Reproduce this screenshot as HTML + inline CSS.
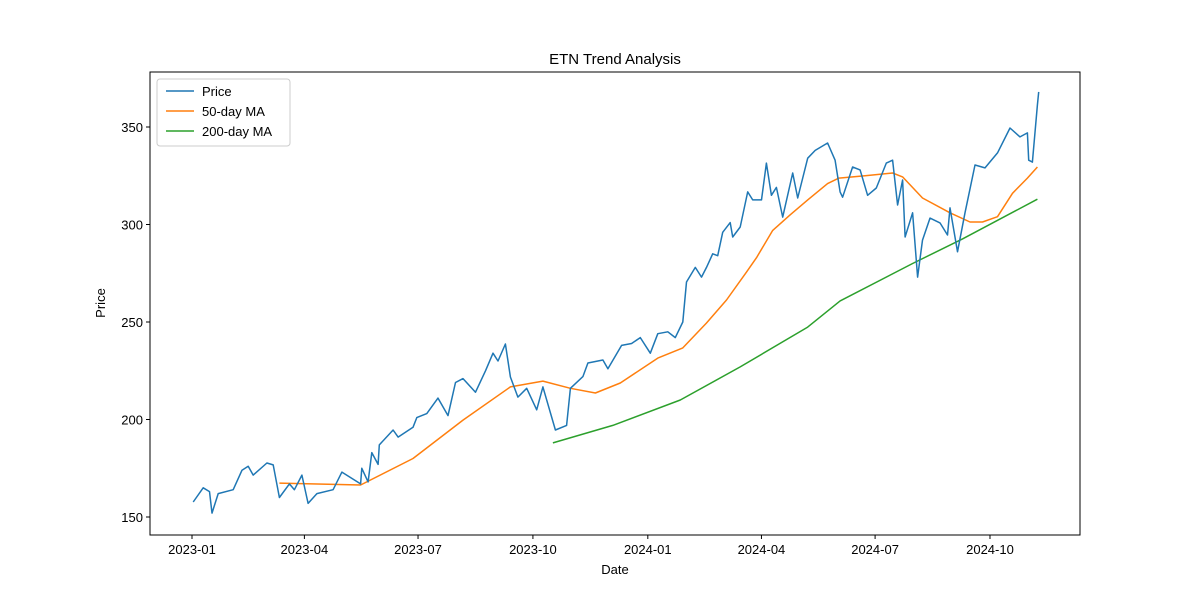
<!DOCTYPE html>
<html><head><meta charset="utf-8"><style>
body{margin:0;background:#fff;}
svg{display:block;font-family:"Liberation Sans","DejaVu Sans",sans-serif;}
</style></head><body>
<svg id="chart" width="1200" height="600" xmlns="http://www.w3.org/2000/svg">
<rect width="1200" height="600" fill="#fff"/>
<text x="615" y="64" font-size="15" text-anchor="middle">ETN Trend Analysis</text>
<g id="axes"></g>
<g id="series"></g>
<rect x="150" y="72" width="930" height="463" fill="none" stroke="#000" stroke-width="1"/>
<text x="615" y="574" font-size="13" text-anchor="middle">Date</text>
<text x="105" y="303" font-size="13" text-anchor="middle" transform="rotate(-90 105 303)">Price</text>
<g>
<rect x="157" y="79" width="133" height="67" rx="3" fill="#fff" stroke="#ccc"/>
<line x1="166" y1="91" x2="194" y2="91" stroke="#1f77b4" stroke-width="1.5"/>
<text x="202" y="96" font-size="13">Price</text>
<line x1="166" y1="111" x2="194" y2="111" stroke="#ff7f0e" stroke-width="1.5"/>
<text x="202" y="116" font-size="13">50-day MA</text>
<line x1="166" y1="131" x2="194" y2="131" stroke="#2ca02c" stroke-width="1.5"/>
<text x="202" y="136" font-size="13">200-day MA</text>
</g>
</svg>
<script>
// days since 2023-01-01
const priceDays=[1,9,14,16,21,33,40,45,49,60,65,70,78,82,88,93,100,113,120,135,136,141,144,149,150,161,165,177,180,188,197,205,211,217,227,235,241,245,251,255,261,268,276,281,291,300,303,313,317,329,333,344,352,359,367,373,381,387,393,396,403,408,412,417,421,425,431,433,439,445,449,456,460,464,468,473,481,485,493,499,509,515,519,521,529,535,541,548,556,561,565,569,571,577,581,585,591,599,605,607,613,619,627,635,645,655,663,669,670,673,677,678];
const priceVals=[157.7,165,163,152,162,164,174,176,171.5,177.7,176.7,160,167,164,171.5,157,162,164,173,167,175,168,183,177,187,194.6,191,196,201,203,211,202,219,221,214,225,234,230,238.7,221.8,211.5,216,205,216.7,194.6,197,216,222,229,230.5,226,238,239,242,234,244,245,242,250,270.5,278,273,278,285,284,296,301,293.6,298.7,316.7,312.6,312.6,331.5,315,319,303.8,326.4,313.6,334,338,341.8,333,316.7,314,329.5,328,315,318.7,331.5,333,310,322.8,293.6,306,273,292,303.3,300.8,294.6,308.5,286,306,330.5,329,336.7,349.5,344.9,347,333,332,361.3,368];
const ma50Days=[70,135,177,217,255,281,303,323,343,373,393,412,428,444,452,465,479,493,509,518,539,561,569,585,607,623,633,645,657,669,677];
const ma50Vals=[167.4,166.4,180,199.7,216.7,219.7,216,213.6,218.7,231.5,236.7,249.5,261.3,275.6,283,297,305,312.6,321,323.8,325,326.4,324.4,313.6,306,301.3,301.3,304,316,323.8,329.5];
const ma200Days=[289,337,391,439,493,519,577,617,677];
const ma200Vals=[188,197,210,227,247.4,260.8,280,292.6,313];
const yTicks=[150,200,250,300,350];
const xTickDays=[0,90,181,273,365,456,547,639];
const xTickLabels=["2023-01","2023-04","2023-07","2023-10","2024-01","2024-04","2024-07","2024-10"];

const X=d=>192+d*1.2488;
const Y=v=>517-(v-150)*1.95;
const NS="http://www.w3.org/2000/svg";
const axes=document.getElementById('axes');
const series=document.getElementById('series');
function mk(tag,attrs,parent){const e=document.createElementNS(NS,tag);for(const k in attrs)e.setAttribute(k,attrs[k]);parent.appendChild(e);return e;}
yTicks.forEach(v=>{
  const t=mk('line',{x1:146,x2:150,y1:Y(v),y2:Y(v),stroke:'#000'},axes);
  
  
  const l=mk('text',{x:143,y:Y(v)+5,'font-size':13,'text-anchor':'end'},axes);
  l.textContent=v;
  
  
});
xTickDays.forEach((d,i)=>{
  const t=mk('line',{x1:X(d),x2:X(d),y1:535,y2:539,stroke:'#000'},axes);
  
  
  const l=mk('text',{x:X(d),y:554,'font-size':13,'text-anchor':'middle'},axes);
  l.textContent=xTickLabels[i];
  
  
});
function line(days,vals,color,name){
  const pts=days.map((d,i)=>X(d).toFixed(1)+','+Y(vals[i]).toFixed(1)).join(' ');
  const p=mk('polyline',{points:pts,fill:'none',stroke:color,'stroke-width':1.5,'stroke-linejoin':'round'},series);
  
  
}
line(ma200Days,ma200Vals,'#2ca02c','ma200-line');
line(ma50Days,ma50Vals,'#ff7f0e','ma50-line');
line(priceDays,priceVals,'#1f77b4','price-line');
</script>
</body></html>
